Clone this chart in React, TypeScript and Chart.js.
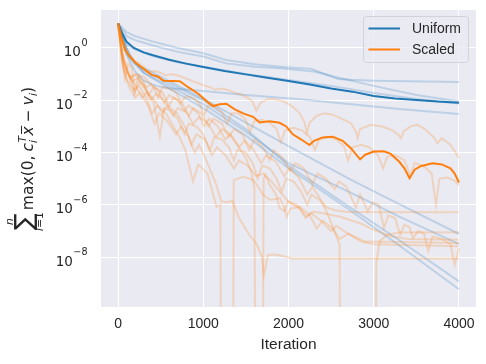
import React, { useEffect, useRef } from "react";
import { Chart, registerables } from "chart.js";

Chart.register(...registerables);

// [iteration, log10(value)]
type Pt = [number, number];

const xTickValues = [0, 1000, 2000, 3000, 4000];
const yTickExponents = [0, -2, -4, -6, -8];
const seriesLabels = ["Uniform", "Scaled"];
const xAxisTitle = "Iteration";

const uniformMean: Pt[] = [[0,0.94],[50,0.55],[100,0.24],[185,0.0],[300,-0.17],[400,-0.27],[600,-0.45],[800,-0.6],[1000,-0.73],[1250,-0.88],[1500,-1.01],[1750,-1.14],[2000,-1.26],[2250,-1.4],[2500,-1.55],[2750,-1.67],[3000,-1.84],[3250,-1.93],[3500,-1.99],[3750,-2.05],[4000,-2.09]];

const scaledMean: Pt[] = [[0,0.94],[40,0.4],[82,-0.08],[130,-0.3],[199,-0.55],[316,-0.84],[394,-1.03],[472,-1.1],[531,-1.25],[628,-1.26],[725,-1.27],[823,-1.5],[940,-1.75],[1057,-2.08],[1116,-2.22],[1193,-2.15],[1271,-2.13],[1370,-2.35],[1467,-2.5],[1584,-2.63],[1661,-2.85],[1778,-2.8],[1895,-2.86],[1973,-3.0],[2051,-3.3],[2150,-3.5],[2246,-3.71],[2300,-3.55],[2400,-3.42],[2519,-3.39],[2636,-3.55],[2735,-3.84],[2840,-4.26],[2900,-4.08],[3000,-3.96],[3120,-3.95],[3200,-4.05],[3300,-4.35],[3360,-4.6],[3420,-4.98],[3480,-4.65],[3550,-4.52],[3690,-4.41],[3800,-4.45],[3900,-4.6],[3950,-4.8],[4000,-5.14]];

const uniformRun1: Pt[] = [[0,0.94],[100,0.6],[200,0.45],[400,0.25],[700,0.0],[1000,-0.2],[1270,-0.46],[1600,-0.62],[1975,-0.74],[2270,-0.8],[2580,-1.19],[2735,-1.22],[3000,-1.25],[4000,-1.3]];
const uniformRun2: Pt[] = [[0,0.94],[100,0.45],[200,0.3],[400,0.1],[700,-0.15],[1000,-0.33],[1270,-0.59],[1600,-0.72],[1900,-0.78],[2300,-0.9],[2600,-1.15],[3000,-1.45],[3500,-1.8],[4000,-2.05]];
const uniformRun3: Pt[] = [[0,0.94],[100,0.15],[200,-0.05],[400,-0.3],[700,-0.55],[1000,-0.72],[1500,-1.0],[2000,-1.22],[2500,-1.45],[3000,-1.72],[3500,-1.95],[4000,-2.12]];
const uniformRun4: Pt[] = [[0,0.94],[60,0.2],[120,-0.4],[200,-0.9],[300,-1.25],[450,-1.45],[600,-1.54],[1000,-1.65],[1500,-1.8],[2135,-1.96],[2735,-2.15],[3300,-2.33],[4000,-2.52]];
const uniformRun5: Pt[] = [[0,0.94],[100,0.0],[200,-0.6],[500,-1.1],[1000,-1.95],[1500,-2.85],[2000,-3.75],[2735,-5.04],[3300,-5.97],[4000,-7.11]];
const uniformRun6: Pt[] = [[0,0.94],[100,-0.15],[300,-0.95],[600,-1.45],[1000,-2.15],[1500,-3.2],[2000,-4.4],[2735,-5.54],[3300,-6.45],[4000,-7.5]];
const uniformRun7: Pt[] = [[0,0.94],[100,-0.25],[300,-0.85],[600,-1.35],[1000,-2.0],[1500,-3.1],[2000,-4.5],[2735,-6.12],[3300,-7.35],[4000,-8.92]];
const uniformRun8: Pt[] = [[0,0.94],[150,-0.45],[300,-0.95],[600,-1.55],[1000,-2.3],[1500,-3.35],[2000,-4.6],[2735,-6.23],[3300,-7.55],[4000,-9.22]];

const scaledRun1: Pt[] = [[0,0.94],[50,0.25],[100,-0.1],[150,-0.35],[200,-0.5],[260,-0.62],[320,-0.78],[380,-0.9],[440,-0.88],[500,-0.95],[560,-1.05],[620,-1.0],[700,-1.05],[780,-1.15],[860,-1.25],[940,-1.35],[1020,-1.45],[1080,-1.5],[1140,-1.6],[1200,-1.55],[1280,-1.6],[1360,-1.7],[1440,-1.78],[1520,-1.9],[1580,-2.05],[1622,-2.4],[1670,-2.1],[1760,-1.95],[1850,-1.97],[1950,-2.05],[2050,-2.25],[2130,-2.5],[2190,-2.85],[2215,-3.26],[2250,-2.85],[2330,-2.6],[2420,-2.5],[2520,-2.55],[2620,-2.7],[2735,-2.88],[2790,-3.2],[2810,-3.45],[2840,-3.1],[2967,-2.94],[3100,-3.0],[3220,-3.15],[3300,-3.35],[3320,-3.45],[3350,-3.2],[3430,-3.0],[3513,-2.94],[3600,-3.1],[3700,-3.4],[3747,-3.64],[3800,-3.45],[3900,-3.7],[4000,-4.2]];
const scaledRun2: Pt[] = [[0,0.94],[40,0.0],[80,-1.16],[120,-0.6],[160,-0.75],[195,-1.72],[240,-1.05],[300,-1.1],[360,-1.3],[420,-1.5],[470,-1.9],[520,-1.5],[600,-1.55],[680,-1.7],[740,-2.1],[790,-1.85],[870,-1.9],[950,-2.1],[1010,-2.55],[1060,-2.2],[1140,-2.25],[1220,-2.45],[1280,-2.9],[1330,-2.5],[1410,-2.5],[1490,-2.7],[1550,-3.2],[1600,-2.8],[1690,-2.75],[1780,-2.85],[1860,-3.1],[1910,-3.6],[1960,-3.15],[2060,-3.05],[2160,-3.15],[2250,-3.4],[2310,-3.9],[2360,-3.5],[2460,-3.4],[2560,-3.5],[2650,-3.75],[2700,-4.3],[2750,-3.8],[2850,-3.7],[2950,-3.8],[3050,-4.1],[3110,-4.6],[3160,-4.15],[3260,-4.1],[3360,-4.3],[3430,-4.9],[3480,-4.4],[3580,-4.5],[3680,-4.8],[3730,-6.0],[3770,-5.0],[3860,-4.95],[3940,-5.05],[4000,-5.25]];
const scaledRun3: Pt[] = [[0,0.94],[60,-0.4],[120,-0.9],[195,-1.72],[250,-1.3],[330,-1.6],[420,-2.1],[490,-3.39],[540,-2.3],[620,-2.4],[700,-2.7],[780,-3.3],[830,-2.9],[920,-3.0],[1000,-3.3],[1080,-3.9],[1130,-3.4],[1220,-3.5],[1300,-3.8],[1360,-4.3],[1400,-3.9],[1500,-4.0],[1580,-4.4],[1640,-5.0],[1690,-4.5],[1780,-4.6],[1860,-5.0],[1920,-5.5],[1970,-5.0],[2060,-5.1],[2150,-5.5],[2220,-6.0],[2270,-5.6],[2360,-5.8],[2450,-6.1],[2550,-6.2],[2700,-6.27],[4000,-6.28]];
const scaledRun4: Pt[] = [[0,0.94],[50,-0.2],[100,-0.8],[160,-1.3],[230,-1.15],[300,-1.45],[380,-2.0],[450,-1.75],[550,-2.05],[650,-2.6],[700,-2.3],[800,-2.45],[880,-2.9],[950,-2.65],[1050,-2.85],[1150,-3.4],[1220,-3.1],[1320,-3.3],[1420,-3.8],[1480,-3.55],[1580,-3.85],[1680,-4.4],[1740,-4.1],[1850,-4.35],[1950,-4.9],[2010,-4.6],[2120,-4.95],[2220,-5.6],[2280,-5.3],[2380,-5.8],[2480,-6.5],[2560,-7.2],[2600,-7.5],[2613,-20],[3014,-20],[3030,-8.2],[3070,-7.4],[3150,-7.15],[3300,-7.05],[4000,-7.04]];
const scaledRun5: Pt[] = [[0,0.94],[60,-0.5],[120,-1.0],[200,-1.4],[280,-1.9],[340,-1.7],[430,-2.0],[520,-2.5],[580,-2.2],[690,-2.5],[800,-3.1],[860,-3.7],[920,-3.3],[1020,-3.5],[1100,-4.1],[1160,-3.8],[1260,-4.1],[1360,-4.6],[1420,-4.3],[1520,-4.5],[1620,-4.9],[1700,-4.8],[1800,-5.1],[1900,-5.5],[2020,-5.93],[2135,-6.13],[2215,-6.45],[2290,-6.26],[2405,-6.32],[2605,-6.45],[2840,-6.7],[3000,-6.95],[3200,-7.2],[3400,-7.3],[4000,-7.33]];
const scaledRun6: Pt[] = [[0,0.94],[40,-0.3],[90,-0.9],[150,-1.1],[230,-1.0],[300,-1.3],[360,-1.8],[420,-1.5],[520,-1.7],[600,-2.2],[650,-1.9],[750,-2.1],[830,-2.6],[880,-2.3],[980,-2.5],[1060,-3.0],[1120,-2.7],[1220,-2.9],[1300,-3.4],[1360,-3.1],[1460,-3.3],[1540,-3.9],[1600,-3.5],[1700,-3.8],[1780,-4.3],[1830,-3.9],[1930,-4.2],[2020,-4.7],[2080,-4.4],[2180,-4.6],[2280,-5.2],[2340,-4.8],[2440,-5.0],[2540,-5.4],[2590,-5.1],[2680,-5.3],[2790,-6.1],[2840,-5.6],[2930,-6.24],[2990,-5.9],[3060,-6.0],[3120,-6.88],[3170,-6.4],[3250,-6.5],[3310,-7.14],[3360,-6.75],[3420,-6.85],[3460,-7.27],[3520,-7.0],[3590,-7.1],[3640,-7.76],[3690,-7.2],[3800,-7.3],[3900,-7.5],[3950,-8.29],[4000,-7.65]];
const scaledRun7: Pt[] = [[0,0.94],[50,-0.6],[100,-1.2],[180,-1.6],[250,-1.45],[330,-1.9],[400,-2.5],[460,-2.2],[560,-2.5],[650,-3.0],[720,-3.4],[790,-3.9],[880,-5.1],[940,-4.46],[1050,-4.8],[1155,-6.07],[1200,-6.0],[1220,-20],[1345,-20],[1357,-5.05],[1470,-4.92],[1590,-5.05],[1707,-5.62],[1785,-5.81],[1900,-5.74],[1950,-6.1],[1980,-6.45],[2020,-6.15],[2135,-6.07],[2250,-6.4],[2330,-6.9],[2400,-6.6],[2520,-6.9],[2600,-7.3],[2700,-7.1],[2850,-7.4],[3000,-7.5],[4000,-7.58]];
const scaledRun8: Pt[] = [[0,0.94],[60,-0.8],[130,-1.5],[200,-1.9],[260,-1.7],[350,-2.2],[430,-2.9],[480,-2.5],[580,-2.8],[680,-3.3],[740,-3.0],[830,-3.4],[900,-4.0],[950,-3.7],[1050,-4.4],[1150,-5.2],[1210,-5.86],[1270,-5.9],[1340,-5.85],[1420,-6.5],[1540,-7.14],[1620,-7.46],[1690,-8.0],[1710,-8.7],[1760,-7.9],[1860,-7.9],[2050,-8.05],[4000,-8.05]];
const scaledRun9: Pt[] = [[0,0.94],[40,-0.1],[90,-0.7],[140,-1.2],[200,-1.0],[270,-1.3],[330,-1.5],[380,-1.4],[470,-1.6],[540,-2.1],[600,-1.8],[700,-2.0],[780,-2.4],[830,-2.2],[940,-2.5],[1010,-3.0],[1070,-2.7],[1170,-3.0],[1260,-3.5],[1310,-3.3],[1400,-3.7],[1460,-4.0],[1500,-4.2],[1560,-4.7],[1600,-5.35],[1622,-20],[1690,-20],[1708,-5.0],[1730,-4.84],[1778,-5.23],[1856,-5.61],[1895,-6.12],[1953,-6.24],[1993,-5.86],[2100,-6.0],[2200,-6.5],[2260,-6.3],[2380,-6.6],[2500,-7.0],[2560,-6.8],[2700,-7.1],[2900,-7.4],[4000,-7.45]];

const uniformRuns = [uniformRun1, uniformRun2, uniformRun3, uniformRun4, uniformRun5, uniformRun6, uniformRun7, uniformRun8];
const scaledRuns = [scaledRun1, scaledRun2, scaledRun3, scaledRun4, scaledRun5, scaledRun6, scaledRun7, scaledRun8, scaledRun9];

const BLUE = "#1f77b4";
const ORANGE = "#ff7f0e";
const BLUE_FAINT = "rgba(31,119,180,0.22)";
const ORANGE_FAINT = "rgba(255,127,14,0.22)";
const TEXT = "#262626";
const SANS = '"Liberation Sans", Arial, sans-serif';
const MATH = '"DejaVu Sans", sans-serif';

function toData(pts: Pt[]) {
  return pts.map(([x, e]) => ({ x, y: Math.pow(10, e) }));
}

function ds(pts: Pt[], color: string, width: number) {
  return {
    data: toData(pts),
    borderColor: color,
    backgroundColor: color,
    borderWidth: width,
    pointRadius: 0,
    pointHoverRadius: 0,
    tension: 0,
    fill: false,
    clip: 0,
  };
}

const decorPlugin = {
  id: "decor",
  beforeDraw(chart: any) {
    const { ctx, chartArea: a, width, height } = chart;
    ctx.save();
    ctx.fillStyle = "#ffffff";
    ctx.fillRect(0, 0, width, height);
    ctx.fillStyle = "#eaeaf2";
    ctx.fillRect(a.left, a.top, a.right - a.left, a.bottom - a.top);
    ctx.restore();
  },
  afterDraw(chart: any) {
    const { ctx, chartArea: a } = chart;
    const ys = chart.scales.y;
    ctx.save();
    ctx.fillStyle = TEXT;
    ctx.textBaseline = "alphabetic";
    // y tick labels 10^e
    yTickExponents.forEach((e) => {
      const py = ys.getPixelForValue(Math.pow(10, e));
      const ex = e === 0 ? "0" : "\u2212" + Math.abs(e);
      ctx.font = `13.5px ${MATH}`;
      const w1 = ctx.measureText("10").width;
      ctx.font = `9.6px ${MATH}`;
      const w2 = ctx.measureText(ex).width;
      const x0 = 87 - w2 - w1;
      ctx.font = `13.5px ${MATH}`;
      ctx.fillText("10", x0, py + 8.5);
      ctx.font = `9.6px ${MATH}`;
      ctx.fillText(ex, x0 + w1 + 0.5, py - 2);
    });

    // y axis label (math)
    const b = 15.5, s = 10.8, big = 25;
    const up = (z: number) => `${z}px ${MATH}`;
    const itf = (z: number) => `italic ${z}px ${MATH}`;
    const m = (t: string, f: string) => { ctx.font = f; return ctx.measureText(t).width; };
    const wSig = m("\u2211", up(big));
    const wMax = m("max(0,", up(b));
    const wSp = 4;
    const wc = m("c", itf(b));
    const wsub = Math.max(m("i", itf(s)), m("T", itf(s)));
    const wx = m("x", itf(b));
    const wminus = m("\u2212", up(b));
    const wv = m("v", itf(b));
    const wi = m("i", itf(s));
    const wp = m(")", up(b));
    const gap = 4;
    const total = wSig + 3 + wMax + wSp + wc + wsub + 1 + wx + gap + wminus + gap + wv + wi + wp;
    const cy = (a.top + a.bottom) / 2;
    ctx.save();
    ctx.translate(33, cy + total / 2);
    ctx.rotate(-Math.PI / 2);
    let u = 0;
    ctx.font = up(big);
    ctx.fillText("\u2211", u, -1.5);
    const cx = u + wSig / 2;
    const wn = m("n", itf(s));
    ctx.fillText("n", cx - wn / 2, -20.5);
    const wi1 = m("i", itf(s));
    const we1 = m("=1", up(s));
    const l0 = cx - (wi1 + we1) / 2;
    ctx.font = itf(s); ctx.fillText("i", l0, 9.5);
    ctx.font = up(s); ctx.fillText("=1", l0 + wi1, 9.5);
    u += wSig + 3;
    ctx.font = up(b); ctx.fillText("max(0,", u, 0); u += wMax + wSp;
    ctx.font = itf(b); ctx.fillText("c", u, 0); u += wc;
    ctx.font = itf(s); ctx.fillText("T", u + 0.5, -7); ctx.fillText("i", u, 3.5); u += wsub + 1;
    ctx.font = itf(b); ctx.fillText("x", u, 0);
    ctx.strokeStyle = TEXT; ctx.lineWidth = 1;
    ctx.beginPath(); ctx.moveTo(u + 1.5, -11.5); ctx.lineTo(u + wx + 0.5, -11.5); ctx.stroke();
    u += wx + gap;
    ctx.font = up(b); ctx.fillText("\u2212", u, 0); u += wminus + gap;
    ctx.font = itf(b); ctx.fillText("v", u, 0); u += wv;
    ctx.font = itf(s); ctx.fillText("i", u, 3.5); u += wi;
    ctx.font = up(b); ctx.fillText(")", u, 0);
    ctx.restore();

    // legend
    const lx = 363.5, ly = 16.5, lw = 105, lh = 46;
    ctx.beginPath();
    (ctx as any).roundRect(lx, ly, lw, lh, 3);
    ctx.fillStyle = "rgba(234,234,242,0.8)";
    ctx.fill();
    ctx.strokeStyle = "#d2d2d8";
    ctx.lineWidth = 1;
    ctx.stroke();
    const colors = [BLUE, ORANGE];
    const rows = [28.5, 49.5];
    seriesLabels.forEach((lab, i) => {
      ctx.strokeStyle = colors[i];
      ctx.lineWidth = 2;
      ctx.beginPath();
      ctx.moveTo(368.5, rows[i]);
      ctx.lineTo(400, rows[i]);
      ctx.stroke();
      ctx.fillStyle = TEXT;
      ctx.font = `14px ${SANS}`;
      ctx.textBaseline = "middle";
      ctx.fillText(lab, 412, rows[i] + 0.5);
    });
    ctx.restore();
  },
};

export default function App() {
  const ref = useRef<HTMLCanvasElement | null>(null);
  useEffect(() => {
    if (!ref.current) return;
    const datasets: any[] = [
      { label: seriesLabels[1], ...ds(scaledMean, ORANGE, 2) },
      { label: seriesLabels[0], ...ds(uniformMean, BLUE, 2) },
      ...scaledRuns.map((r) => ds(r, ORANGE_FAINT, 2)),
      ...uniformRuns.map((r) => ds(r, BLUE_FAINT, 2)),
    ];
    const chart = new Chart(ref.current, {
      type: "line",
      data: { datasets },
      options: {
        animation: false,
        responsive: true,
        maintainAspectRatio: false,
        events: [],
        layout: { padding: { left: 0, right: 10, top: 10, bottom: 0 } },
        plugins: { legend: { display: false }, tooltip: { enabled: false } },
        scales: {
          x: {
            type: "linear",
            min: -200,
            max: 4200,
            afterBuildTicks: (sc: any) => { sc.ticks = xTickValues.map((v) => ({ value: v })); },
            afterFit: (sc: any) => { sc.height = 57; },
            grid: { color: "#ffffff", lineWidth: 1, drawTicks: false },
            border: { display: false },
            ticks: {
              color: TEXT,
              padding: 9,
              font: { family: SANS, size: 14 },
              maxRotation: 0,
              callback: (v: any) => String(v),
            },
            title: {
              display: true,
              text: xAxisTitle,
              color: TEXT,
              font: { family: SANS, size: 15.5 },
              padding: { top: 0, bottom: 10 },
            },
          },
          y: {
            type: "logarithmic",
            min: Math.pow(10, -9.9),
            max: Math.pow(10, 1.45),
            afterBuildTicks: (sc: any) => { sc.ticks = yTickExponents.map((e) => ({ value: Math.pow(10, e) })); },
            afterFit: (sc: any) => { sc.width = 101; },
            grid: { color: "#ffffff", lineWidth: 1, drawTicks: false },
            border: { display: false },
            ticks: { display: false },
          },
        },
      },
      plugins: [decorPlugin],
    } as any);
    return () => chart.destroy();
  }, []);
  return (
    <div style={{ position: "absolute", left: 0, top: 0, width: 486, height: 364 }}>
      <canvas ref={ref} />
    </div>
  );
}
